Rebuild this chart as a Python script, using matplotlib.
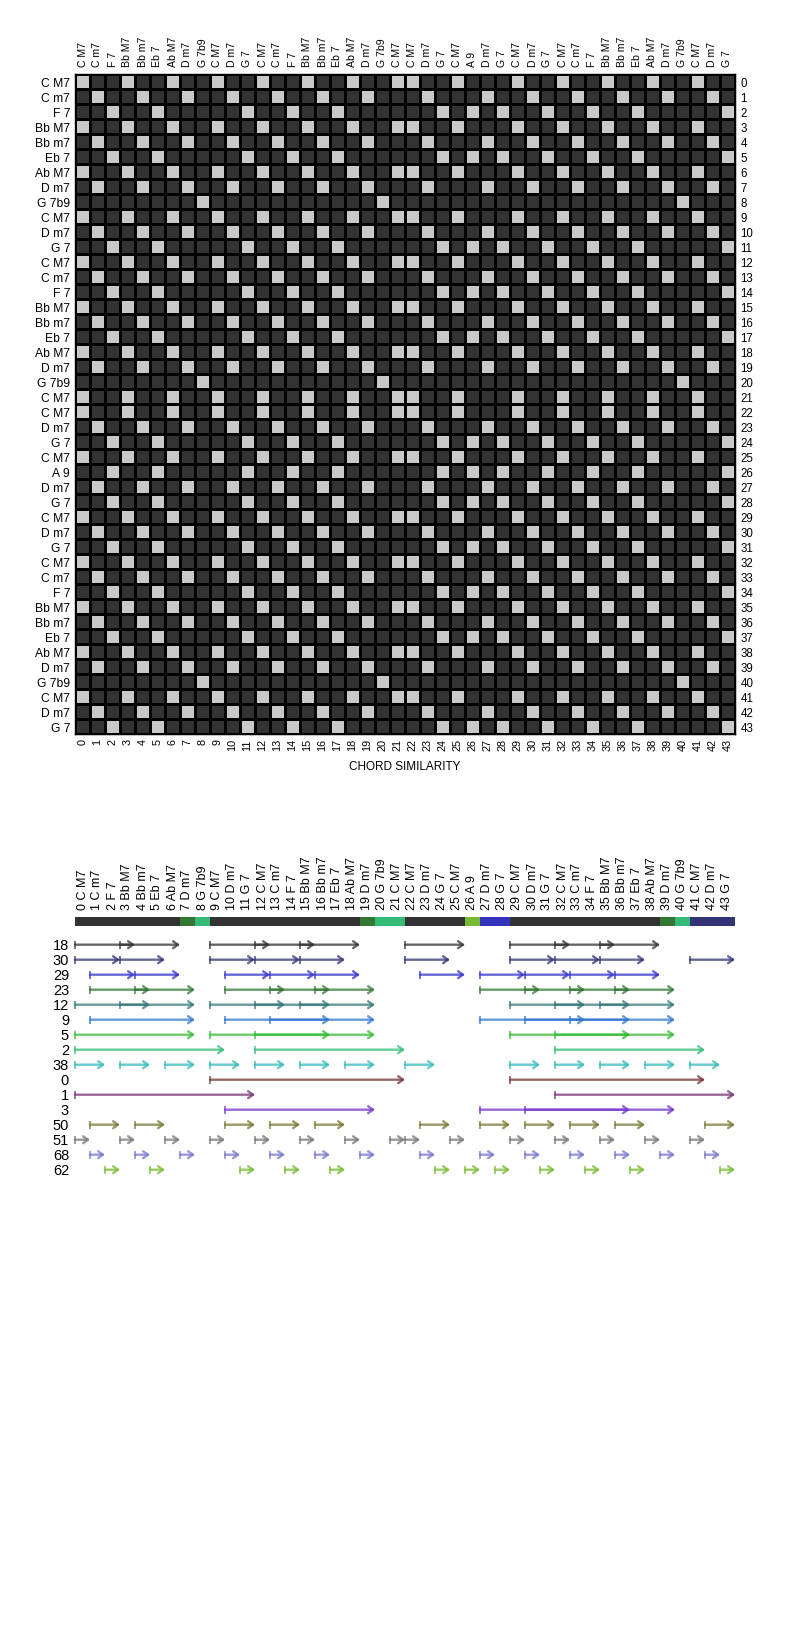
import numpy as np
import matplotlib
matplotlib.use("Agg")
import matplotlib.pyplot as plt
from matplotlib.colors import ListedColormap
from matplotlib.patches import ArrowStyle

plt.rcParams['font.family'] = ['Liberation Sans', 'DejaVu Sans']

# ---------------- data ----------------
chords = ["C M7", "C m7", "F 7", "Bb M7", "Bb m7", "Eb 7", "Ab M7", "D m7", "G 7b9",
          "C M7", "D m7", "G 7", "C M7", "C m7", "F 7", "Bb M7", "Bb m7", "Eb 7",
          "Ab M7", "D m7", "G 7b9", "C M7", "C M7", "D m7", "G 7", "C M7", "A 9",
          "D m7", "G 7", "C M7", "D m7", "G 7", "C M7", "C m7", "F 7", "Bb M7",
          "Bb m7", "Eb 7", "Ab M7", "D m7", "G 7b9", "C M7", "D m7", "G 7"]
quality_class = {"M7": "major", "m7": "minor", "7": "dominant", "9": "dominant", "7b9": "altered"}

pattern_ids = [18, 30, 29, 23, 12, 9, 5, 2, 38, 0, 1, 3, 50, 51, 68, 62]
pattern_lengths = [4, 3, 3, 4, 5, 7, 8, 10, 2, 13, 12, 10, 2, 1, 1, 1]
pattern_starts = [
    [0, 3, 9, 12, 15, 22, 29, 32, 35],
    [0, 3, 9, 12, 15, 22, 29, 32, 35, 41],
    [1, 4, 10, 13, 16, 23, 27, 30, 33, 36],
    [1, 4, 10, 13, 16, 27, 30, 33, 36],
    [0, 3, 9, 12, 15, 29, 32, 35],
    [1, 10, 13, 27, 30, 33],
    [0, 9, 12, 29, 32],
    [0, 12, 32],
    [0, 3, 6, 9, 12, 15, 18, 22, 29, 32, 35, 38, 41],
    [9, 29],
    [0, 32],
    [10, 27, 30],
    [1, 4, 10, 13, 16, 23, 27, 30, 33, 36, 42],
    [0, 3, 6, 9, 12, 15, 18, 21, 22, 25, 29, 32, 35, 38, 41],
    [1, 4, 7, 10, 13, 16, 19, 23, 27, 30, 33, 36, 39, 42],
    [2, 5, 11, 14, 17, 24, 26, 28, 31, 34, 37, 43],
]
pattern_colors = ["#333333", "#333377", "#3333cc", "#337733", "#337777", "#3377cc",
                  "#33bb33", "#33bb77", "#33bbbb", "#773333", "#773377", "#7733cc",
                  "#777733", "#777777", "#7777cc", "#77bb33"]

# segmentation bar: (start, end, colour)
segments = [(0, 7, "#333333"), (7, 8, "#337733"), (8, 9, "#33bb77"),
            (9, 19, "#333333"), (19, 20, "#337733"), (20, 22, "#33bb77"),
            (22, 26, "#333333"), (26, 27, "#77bb33"), (27, 29, "#3333bb"),
            (29, 39, "#333333"), (39, 40, "#337733"), (40, 41, "#33bb77"),
            (41, 44, "#333377")]

n = len(chords)
classes = [quality_class[c.split()[1]] for c in chords]
sim = np.array([[1 if classes[i] == classes[j] else 0 for j in range(n)] for i in range(n)])

# ---------------- figure ----------------
W, H = 810, 1640
fig = plt.figure(figsize=(W / 100, H / 100), dpi=100)

def rect(x0, y0, x1, y1):
    return [x0 / W, 1 - y1 / H, (x1 - x0) / W, (y1 - y0) / H]

# heatmap
ax1 = fig.add_axes(rect(75, 75, 735, 735))
ax1.pcolormesh(np.arange(n + 1), np.arange(n + 1), sim,
               cmap=ListedColormap(["#333333", "#c8c8c8"]), vmin=0, vmax=1,
               edgecolors="black", linewidth=1.0)
ax1.set_xlim(0, n)
ax1.set_ylim(n, 0)
pos = np.arange(n) + 0.5
ax1.xaxis.tick_top()
ax1.set_xticks(pos, chords, rotation=90, fontsize=7.6)
ax1.set_yticks(pos, chords, fontsize=8.7)
ax1.tick_params(axis="x", length=0, pad=5.5)
ax1.tick_params(axis="y", length=0, pad=3.5)
for sp in ax1.spines.values():
    sp.set_linewidth(1.0)

secx = ax1.secondary_xaxis("bottom")
secx.set_xticks(pos, [str(i) for i in range(n)], rotation=90, fontsize=7.8)
secx.tick_params(length=0, pad=3)
secx.set_xlabel("CHORD SIMILARITY", fontsize=8.5, labelpad=7)
secy = ax1.secondary_yaxis("right")
secy.set_yticks(pos, [str(i) for i in range(n)], fontsize=8.3)
secy.tick_params(length=0, pad=4)

# pattern panel
row0 = 945.7
pitch = 15.0
top_px, bot_px = 918, 1185
ax2 = fig.add_axes(rect(75, top_px, 735, bot_px))
ax2.set_xlim(0, n)
ax2.set_ylim((bot_px - row0) / pitch, (top_px - row0) / pitch)
ax2.axis("off")

bar_top = (918 - row0) / pitch
bar_h = 9 / pitch
for s, e, c in segments:
    ax2.bar(s, bar_h, width=e - s, bottom=bar_top, align="edge", color=c, linewidth=0)

lab_y = (910 - row0) / pitch
for i, c in enumerate(chords):
    ax2.text(i + 0.5, lab_y, f"{i} {c}", rotation=90, ha="center", va="bottom",
             fontsize=9, clip_on=False)

for k, (pid, L, starts, col) in enumerate(zip(pattern_ids, pattern_lengths,
                                               pattern_starts, pattern_colors)):
    ax2.text(-0.4, k, str(pid), ha="right", va="center", fontsize=10.5)
    for s in starts:
        ax2.annotate("", xy=(s + L, k), xytext=(s, k),
                     arrowprops=dict(arrowstyle=ArrowStyle("->", head_length=0.35, head_width=0.25),
                                     color=col, lw=1.7, alpha=0.75,
                                     shrinkA=0, shrinkB=0),
                     annotation_clip=False)
        ax2.plot([s], [k], marker="|", ms=5.5, mew=1.3, color=col, alpha=0.75,
                 clip_on=False)

fig.savefig("out.png", dpi=100)
